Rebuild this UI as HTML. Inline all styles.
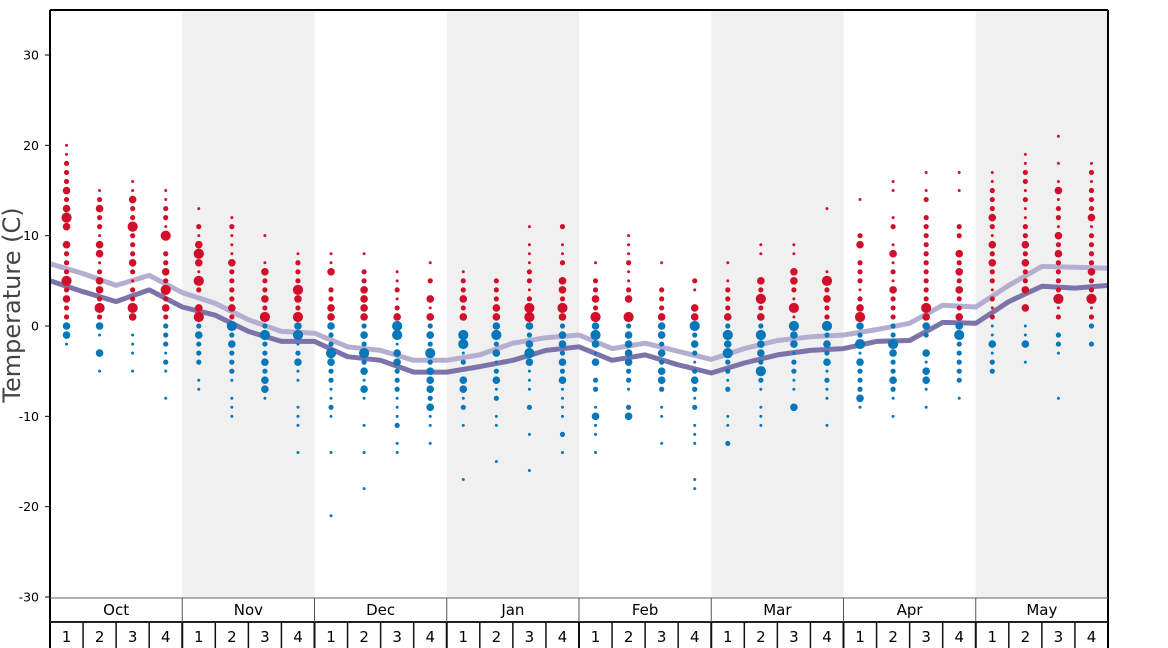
<!DOCTYPE html>
<html><head><meta charset="utf-8"><style>
body{margin:0;background:#fff;}
svg{display:block;font-family:"DejaVu Sans","Liberation Sans",sans-serif;}
</style></head><body>
<svg id="chart" width="1168" height="648"></svg>
<script>
const months=["Oct","Nov","Dec","Jan","Feb","Mar","Apr","May"];
const weekLabels=["1","2","3","4"];
const yTicks=[30,20,10,0,-10,-20,-30];
const highLine=[6.9,5.8,4.5,5.6,3.7,2.5,0.7,-0.6,-0.8,-2.3,-2.7,-3.8,-3.8,-3.2,-1.9,-1.3,-1.0,-2.5,-1.9,-2.8,-3.7,-2.5,-1.6,-1.2,-1.0,-0.4,0.3,2.3,2.1,4.5,6.6,6.5,6.4];
const lowLine=[5.0,3.8,2.7,4.0,2.1,1.2,-0.6,-1.7,-1.7,-3.4,-3.8,-5.1,-5.1,-4.5,-3.8,-2.7,-2.3,-3.8,-3.2,-4.3,-5.2,-4.1,-3.2,-2.7,-2.5,-1.7,-1.6,0.4,0.3,2.7,4.4,4.2,4.5];
const redDots=[
[[20,1],[19,1],[18,2],[17,2],[16,2],[15,3],[14,2],[13,3],[12,4],[11,3],[9,3],[8,2],[7,2],[6,2],[5,4],[4,2],[3,3],[2,2],[1,2]],
[[15,1],[14,2],[13,3],[12,2],[11,2],[10,1],[9,3],[8,3],[7,1],[6,2],[5,3],[4,3],[3,2],[2,4],[1,2]],
[[16,1],[15,1],[14,3],[13,2],[12,2],[11,4],[10,2],[9,2],[8,2],[7,3],[6,2],[5,1],[4,2],[3,2],[2,4],[1,3]],
[[15,1],[14,1],[13,2],[12,2],[11,1],[10,4],[8,2],[7,2],[6,3],[5,2],[4,4],[3,2],[2,3],[1,2]],
[[13,1],[11,2],[10,1],[9,3],[8,4],[7,3],[6,1],[5,4],[4,2],[2,3],[1,4]],
[[12,1],[11,2],[10,1],[9,1],[8,1],[7,3],[6,2],[5,2],[4,2],[3,2],[2,3],[1,2]],
[[10,1],[7,1],[6,3],[5,2],[4,2],[3,3],[2,2],[1,4]],
[[8,1],[7,2],[6,2],[5,2],[4,4],[3,3],[2,2],[1,4]],
[[8,1],[7,1],[6,3],[4,2],[3,2],[2,3],[1,3]],
[[8,1],[6,2],[5,2],[4,3],[3,3],[2,3],[1,3]],
[[6,1],[5,1],[4,2],[3,1],[2,2],[1,3]],
[[7,1],[5,2],[3,3],[2,1],[1,3]],
[[6,1],[5,2],[4,2],[3,3],[2,2],[1,3]],
[[5,2],[4,2],[3,2],[2,3],[1,3]],
[[11,1],[9,1],[8,1],[7,1],[6,2],[5,2],[4,1],[3,2],[2,4],[1,4]],
[[11,2],[9,1],[8,1],[7,2],[5,3],[4,3],[3,2],[2,4],[1,3]],
[[7,1],[5,2],[4,2],[3,3],[2,2],[1,4]],
[[10,1],[9,1],[8,1],[7,2],[6,1],[5,1],[4,2],[3,3],[1,4]],
[[7,1],[4,2],[3,2],[2,2],[1,3]],
[[5,2],[4,1],[2,3],[1,3]],
[[7,1],[5,1],[4,2],[3,2],[2,2],[1,3]],
[[9,1],[8,1],[5,3],[4,2],[3,4],[2,2],[1,3]],
[[9,1],[8,1],[6,3],[5,3],[4,2],[3,1],[2,4],[1,1]],
[[13,1],[6,1],[5,4],[4,2],[3,3],[2,2],[1,2]],
[[14,1],[10,2],[9,3],[7,2],[6,2],[5,2],[4,1],[3,2],[2,3],[1,4]],
[[16,1],[15,1],[12,1],[11,2],[9,1],[8,3],[7,1],[6,2],[5,1],[4,3],[3,2],[2,2],[1,2]],
[[17,1],[15,1],[14,2],[12,2],[11,2],[10,2],[9,2],[8,2],[7,2],[6,2],[5,2],[4,2],[3,2],[2,4],[1,3]],
[[17,1],[15,1],[11,2],[10,2],[8,3],[7,2],[6,3],[5,2],[4,3],[3,2],[2,2],[1,3]],
[[17,1],[16,1],[15,2],[14,2],[13,2],[12,3],[11,2],[10,1],[9,3],[8,2],[7,3],[6,2],[5,2],[4,1],[3,2],[2,1],[1,2]],
[[19,1],[18,1],[17,2],[16,2],[15,1],[14,2],[13,1],[12,1],[11,2],[10,2],[9,3],[8,2],[7,3],[6,2],[5,2],[4,3],[2,3]],
[[21,1],[18,1],[16,1],[15,3],[14,1],[13,2],[12,2],[11,1],[10,3],[9,2],[8,3],[7,2],[6,2],[5,2],[4,2],[3,4],[2,1],[1,2]],
[[18,1],[17,2],[16,1],[15,2],[14,2],[13,2],[12,3],[11,1],[10,2],[9,2],[8,2],[7,2],[6,3],[5,2],[4,2],[3,4],[2,1],[1,2]]
];
const blueDots=[
[[0,3],[-1,3],[-2,1]],
[[0,3],[-1,1],[-3,3],[-5,1]],
[[-1,1],[-2,1],[-3,1],[-5,1]],
[[0,2],[-1,2],[-2,2],[-3,1],[-4,2],[-5,1],[-8,1]],
[[0,2],[-1,3],[-2,2],[-3,2],[-4,2],[-6,1],[-7,1]],
[[0,4],[-1,2],[-2,3],[-3,2],[-4,2],[-5,2],[-6,1],[-8,1],[-9,1],[-10,1]],
[[0,2],[-1,4],[-2,2],[-3,2],[-4,3],[-5,2],[-6,3],[-7,3],[-8,1]],
[[0,3],[-1,4],[-2,1],[-3,2],[-4,3],[-5,1],[-6,1],[-9,1],[-10,1],[-11,1],[-14,1]],
[[0,3],[-1,2],[-2,2],[-3,4],[-4,3],[-5,2],[-6,2],[-7,1],[-8,1],[-9,2],[-10,1],[-14,1],[-21,1]],
[[0,2],[-1,3],[-2,2],[-3,4],[-4,2],[-5,3],[-6,1],[-7,3],[-8,1],[-11,1],[-14,1],[-18,1]],
[[0,4],[-1,4],[-2,1],[-3,3],[-4,3],[-5,2],[-6,2],[-7,2],[-8,1],[-9,1],[-10,1],[-11,2],[-13,1],[-14,1]],
[[0,2],[-1,3],[-2,2],[-3,4],[-4,2],[-5,3],[-6,3],[-7,3],[-8,2],[-9,3],[-10,1],[-11,1],[-13,1]],
[[-1,4],[-2,4],[-3,1],[-4,2],[-6,3],[-7,3],[-8,1],[-9,2],[-11,1],[-17,1]],
[[0,3],[-1,4],[-2,2],[-3,3],[-4,1],[-5,2],[-6,3],[-7,1],[-8,2],[-10,1],[-11,1],[-15,1]],
[[0,3],[-1,2],[-2,3],[-3,4],[-4,3],[-5,1],[-6,1],[-7,1],[-9,2],[-12,1],[-16,1]],
[[0,2],[-1,3],[-2,3],[-3,2],[-4,3],[-5,2],[-6,3],[-7,1],[-8,1],[-9,1],[-10,1],[-12,2],[-14,1]],
[[0,3],[-1,4],[-2,3],[-3,1],[-4,3],[-6,2],[-7,2],[-9,1],[-10,3],[-11,1],[-12,1],[-14,1]],
[[0,2],[-1,3],[-2,3],[-3,3],[-4,3],[-5,2],[-6,2],[-7,1],[-9,2],[-10,3]],
[[0,3],[-1,3],[-2,2],[-3,3],[-4,2],[-5,3],[-6,3],[-7,2],[-9,1],[-10,1],[-13,1]],
[[0,4],[-1,2],[-2,3],[-3,2],[-4,1],[-5,2],[-6,3],[-7,2],[-8,1],[-9,2],[-11,1],[-12,1],[-13,1],[-17,1],[-18,1]],
[[0,2],[-1,4],[-2,3],[-3,4],[-4,2],[-5,2],[-6,1],[-7,2],[-10,1],[-11,1],[-13,2]],
[[0,2],[-1,4],[-2,3],[-3,3],[-4,2],[-5,4],[-6,2],[-7,1],[-9,1],[-10,1],[-11,1]],
[[0,4],[-1,3],[-2,3],[-3,1],[-4,2],[-5,2],[-6,1],[-7,1],[-9,3]],
[[0,4],[-1,2],[-2,3],[-3,2],[-4,3],[-5,1],[-6,2],[-7,1],[-8,1],[-11,1]],
[[0,3],[-1,2],[-2,4],[-3,1],[-4,3],[-5,2],[-6,2],[-7,2],[-8,3],[-9,1]],
[[0,2],[-1,2],[-2,4],[-3,3],[-4,2],[-5,2],[-6,3],[-7,2],[-8,1],[-10,1]],
[[0,3],[-1,2],[-3,3],[-4,1],[-5,3],[-6,3],[-7,1],[-9,1]],
[[0,3],[-1,4],[-2,2],[-3,2],[-4,2],[-5,2],[-6,2],[-8,1]],
[[0,1],[-1,1],[-2,3],[-3,1],[-4,2],[-5,2]],
[[0,1],[-1,1],[-2,3],[-4,1]],
[[-1,2],[-2,2],[-3,1],[-8,1]],
[[0,2],[-2,2]]
];

const NS="http://www.w3.org/2000/svg";
const svg=document.getElementById('chart');
const L=50,R=1108,T=10,B=598;
const weekW=(R-L)/32, monthW=(R-L)/8;
function y(t){return 326-t*9.033;}
function xWeekCenter(i){return L+weekW*(i+0.5);}
function xEdge(k){return L+weekW*k;}
const RADII=[0,1.5,2.6,3.8,5.1];
function mk(tag,attrs,parent){const e=document.createElementNS(NS,tag);for(const k in attrs)e.setAttribute(k,attrs[k]);(parent||svg).appendChild(e);return e;}

// bands
months.forEach((m,i)=>{if(i%2==1){const r=mk('rect',{x:L+monthW*i,y:T,width:monthW,height:B-T,fill:'#f0f0f0'});

}});

// lines (behind dots)
function linePath(vals){return vals.map((v,k)=>(k?'L':'M')+xEdge(k).toFixed(1)+','+y(v).toFixed(1)).join('');}
const hl=mk('path',{d:linePath(highLine),fill:'none',stroke:'#b6aed0',"stroke-width":5,"stroke-linejoin":'round'});


const ll=mk('path',{d:linePath(lowLine),fill:'none',stroke:'#7e72aa',"stroke-width":5,"stroke-linejoin":'round'});



// dots
const gDots=mk('g',{});


redDots.forEach((arr,i)=>arr.forEach(([t,s])=>{const c=mk('circle',{cx:xWeekCenter(i),cy:y(t),r:RADII[s],fill:'#d0102a'},gDots);

}));
blueDots.forEach((arr,i)=>arr.forEach(([t,s])=>{const c=mk('circle',{cx:xWeekCenter(i),cy:y(t),r:RADII[s],fill:'#0677b8'},gDots);

}));

// frame
mk('line',{x1:L,y1:T,x2:R,y2:T,stroke:'#000','stroke-width':2});
mk('line',{x1:R,y1:T,x2:R,y2:648,stroke:'#000','stroke-width':2});
mk('line',{x1:L,y1:T,x2:L,y2:648,stroke:'#000','stroke-width':2});
mk('line',{x1:L,y1:B,x2:R,y2:B,stroke:'#666','stroke-width':1});
mk('line',{x1:L,y1:622,x2:R,y2:622,stroke:'#222','stroke-width':2});

// y ticks
yTicks.forEach(t=>{mk('line',{x1:L-5,y1:y(t),x2:L,y2:y(t),stroke:'#000','stroke-width':1});
const tx=mk('text',{x:L-11,y:y(t)+4.5,'text-anchor':'end','font-size':12.5,fill:'#000'});tx.textContent=t;

});
const yl=mk('text',{x:0,y:0,transform:'translate(20,305) rotate(-90)','text-anchor':'middle','font-size':24,fill:'#444'});
yl.textContent='Temperature (C)';



// month row
months.forEach((m,i)=>{
 if(i>0)mk('line',{x1:L+monthW*i,y1:B,x2:L+monthW*i,y2:622,stroke:'#555','stroke-width':1});
 const tx=mk('text',{x:L+monthW*(i+0.5),y:615,'text-anchor':'middle','font-size':15,fill:'#000'});tx.textContent=m;
 
 
});
for(let i=0;i<32;i++){
 if(i>0)mk('line',{x1:xEdge(i),y1:622,x2:xEdge(i),y2:648,stroke:'#111','stroke-width':i%4==0?2:1.5});
 const tx=mk('text',{x:xWeekCenter(i),y:642,'text-anchor':'middle','font-size':15,fill:'#000'});tx.textContent=weekLabels[i%4];
 
 
}
</script>
</body></html>
